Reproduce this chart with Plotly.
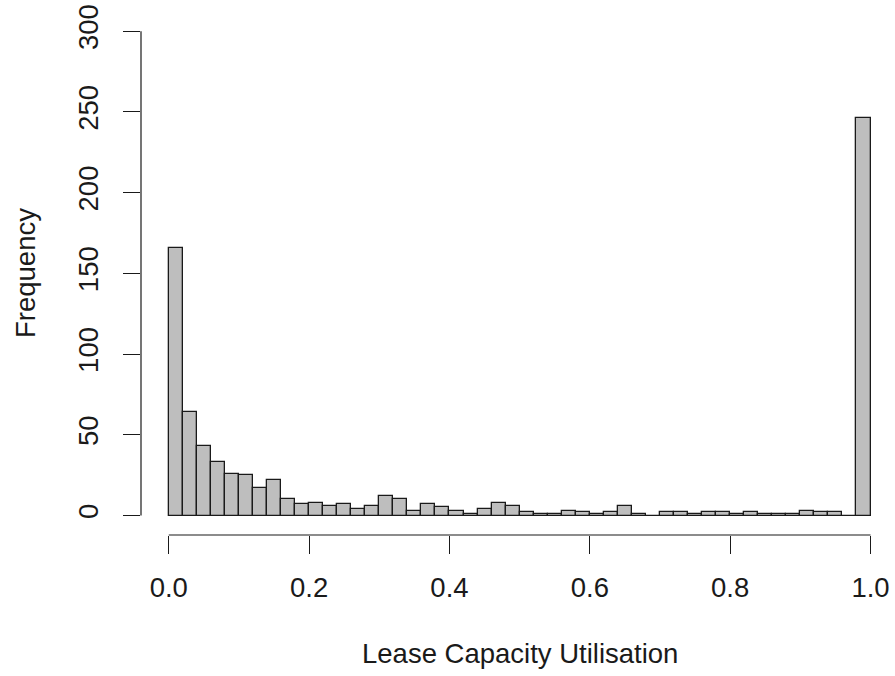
import plotly.graph_objects as go

# Histogram data (bins of width 0.02 from 0.0 to 1.0)
bin_start = 0.0
bin_width = 0.02
counts = [166, 64, 43, 33, 26, 25, 17, 22, 10, 7,
          8, 6, 7, 4, 6, 12, 10, 3, 7, 5,
          3, 1, 4, 8, 6, 2, 1, 1, 3, 2,
          1, 2, 6, 1, 0, 2, 2, 1, 2, 2,
          1, 2, 1, 1, 1, 3, 2, 2, 0, 246]
x_ticks = [0.0, 0.2, 0.4, 0.6, 0.8, 1.0]
x_tick_labels = ["0.0", "0.2", "0.4", "0.6", "0.8", "1.0"]
y_ticks = [0, 50, 100, 150, 200, 250, 300]
y_tick_labels = ["0", "50", "100", "150", "200", "250", "300"]
x_title = "Lease Capacity Utilisation"
y_title = "Frequency"

centers = [bin_start + bin_width * (i + 0.5) for i in range(len(counts))]

FONT = "Liberation Sans, Arial, sans-serif"
TXT = "#1a1a1a"
FS = 27.5

fig = go.Figure()
fig.add_trace(go.Bar(
    x=centers, y=counts, width=bin_width,
    marker=dict(color="#bebebe", line=dict(color="#1a1a1a", width=1.3)),
    hoverinfo="x+y",
))

fig.update_layout(
    width=895, height=676,
    margin=dict(l=141, r=0, t=11, b=141),
    paper_bgcolor="white", plot_bgcolor="white",
    showlegend=False,
    font=dict(family=FONT, size=FS, color=TXT),
    bargap=0,
)

fig.update_xaxes(
    range=[-0.0396, 1.0349],
    tickmode="array", tickvals=x_ticks, ticktext=x_tick_labels,
    ticks="outside", ticklen=18, tickwidth=1, tickcolor=TXT,
    showgrid=False, zeroline=False, showline=False,
    tickfont=dict(family=FONT, size=FS, color=TXT),
    ticklabelstandoff=10, ticklabeloverflow="allow",
)
fig.update_yaxes(
    range=[-12.08, 312.5],
    tickmode="array", tickvals=y_ticks, ticktext=y_tick_labels,
    ticks="outside", ticklen=17, tickwidth=1, tickcolor=TXT,
    showgrid=False, zeroline=False, showline=False,
    tickangle=-90,
    tickfont=dict(family=FONT, size=FS, color=TXT),
    ticklabelstandoff=14, ticklabeloverflow="allow",
)

# R-style detached axis lines spanning only the tick range
fig.add_shape(type="line", xref="x", yref="paper",
              x0=x_ticks[0], x1=x_ticks[-1], y0=0, y1=0,
              line=dict(color=TXT, width=1.2))
fig.add_shape(type="line", xref="paper", yref="y",
              x0=0, x1=0, y0=y_ticks[0], y1=y_ticks[-1],
              line=dict(color=TXT, width=1.2))

# Axis titles
fig.add_annotation(text=x_title, xref="x", yref="paper",
                   x=0.5, y=-(653 - 535) / 524, showarrow=False,
                   xanchor="center", yanchor="middle",
                   font=dict(family=FONT, size=FS, color=TXT))
fig.add_annotation(text=y_title, xref="paper", yref="paper",
                   x=-(141 - 25) / 754, y=0.5, showarrow=False,
                   textangle=-90, xanchor="center", yanchor="middle",
                   font=dict(family=FONT, size=FS, color=TXT))

fig.write_html(
    "out.html",
    config={"displayModeBar": False},
    post_script="document.body.style.margin='0';document.body.style.overflow='hidden';",
)
